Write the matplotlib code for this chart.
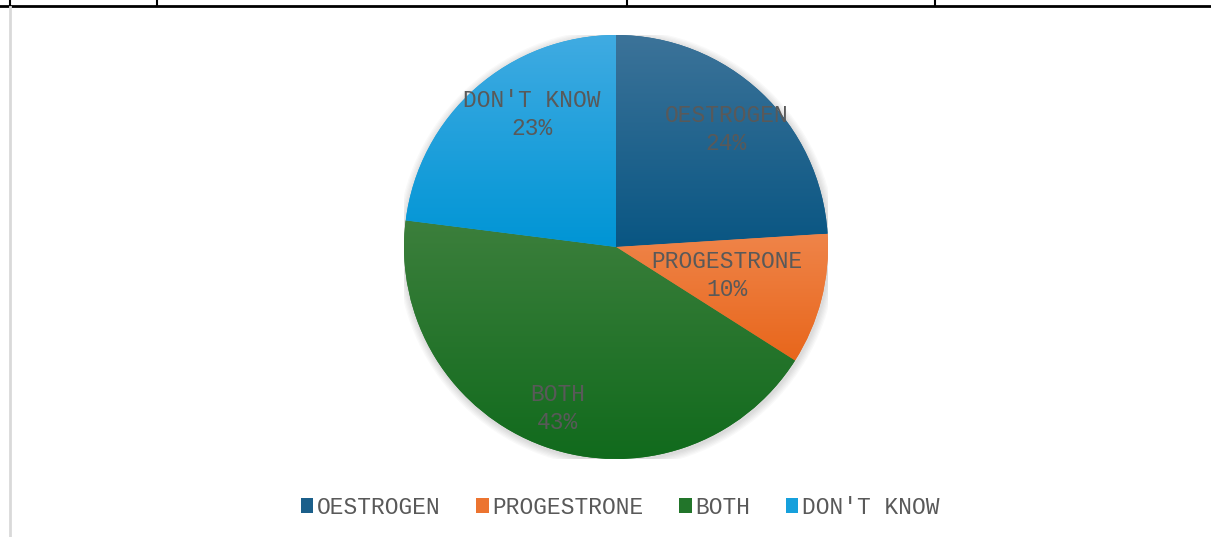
import numpy as np
import matplotlib
matplotlib.use('Agg')
import matplotlib.pyplot as plt
from matplotlib.lines import Line2D
from matplotlib.colors import LinearSegmentedColormap
from matplotlib.patches import Patch, Circle

# data
labels = ['OESTROGEN', 'PROGESTRONE', 'BOTH', "DON'T KNOW"]
shares = [24, 10, 43, 23]
top_colors = ['#3c7399', '#ef8449', '#3c7f3c', '#40abe2']
bottom_colors = ['#095683', '#e8661b', '#106a1c', '#0095d5']
base_colors = ['#1b5f8a', '#ec7430', '#22752a', '#16a0dc']
# where each label sits: fraction of the radius, angle shift (deg)
label_dist = [0.76, 0.54, 0.81, 0.74]
label_shift = [0, 0, 0, -9]

W, H = 1211, 537
fig = plt.figure(figsize=(W / 100, H / 100), dpi=100)
plt.rcParams['font.family'] = ['Liberation Mono', 'DejaVu Sans Mono']
text_col = '#595959'

# pie axes: centre (616, 247) px, radius 212 px
cx, cy, r = 616, 247, 212
ax = fig.add_axes([(cx - r) / W, (H - cy - r) / H, 2 * r / W, 2 * r / H])

# soft shadow
for k in range(6):
    ax.add_patch(Circle((0.004, -0.008), 1.0 + 0.006 * (k + 1), color='#000000',
                        alpha=0.025, lw=0, zorder=0))

wedges, _ = ax.pie(shares, colors=base_colors, startangle=90, counterclock=False,
                   radius=1.0, wedgeprops=dict(linewidth=0))

grad = np.linspace(0, 1, 256).reshape(-1, 1)
for w, c0, c1 in zip(wedges, top_colors, bottom_colors):
    path = w.get_path().transformed(w.get_patch_transform())
    x0, y0 = path.vertices.min(axis=0)
    x1, y1 = path.vertices.max(axis=0)
    cmap = LinearSegmentedColormap.from_list('g', [c0, c1])
    im = ax.imshow(grad, cmap=cmap, extent=[x0, x1, y0, y1], aspect='auto',
                   origin='upper', zorder=2)
    im.set_clip_path(w)

for w, lab, s, d, sh in zip(wedges, labels, shares, label_dist, label_shift):
    mid = np.deg2rad((w.theta1 + w.theta2) / 2 + sh)
    ax.text(d * np.cos(mid), d * np.sin(mid), f'{lab}\n{s}%', ha='center',
            va='center', fontsize=16.5, color=text_col, linespacing=1.25, zorder=5)

ax.set_xlim(-1, 1)
ax.set_ylim(-1, 1)
ax.set_aspect('equal')
ax.axis('off')

handles = [Patch(facecolor=c, edgecolor='none') for c in base_colors]
fig.legend(handles, labels, loc='center', bbox_to_anchor=(620 / W, 1 - 507 / H),
           ncol=4, frameon=False, fontsize=16.5, handlelength=0.55, handleheight=0.6,
           handletextpad=0.15, columnspacing=1.55, labelcolor=text_col)

# table borders from the surrounding document
yt = 1 - 6 / H
fig.add_artist(Line2D([0, 1], [yt, yt], color='black', lw=2, transform=fig.transFigure))
for xv in [10, 157, 627, 935]:
    fig.add_artist(Line2D([xv / W, xv / W], [yt, 1], color='black', lw=1.5,
                          transform=fig.transFigure))
fig.add_artist(Line2D([10.5 / W, 10.5 / W], [0, yt - 1 / H], color='#d9d9d9', lw=2,
                      transform=fig.transFigure))

fig.savefig('out.png', dpi=100)
